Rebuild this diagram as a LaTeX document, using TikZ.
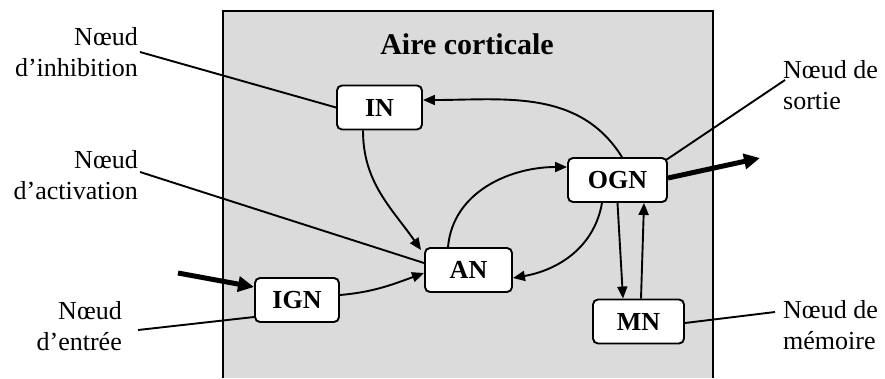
\documentclass[tikz,border=0pt]{standalone}
\usepackage{fontspec}
\setmainfont{Liberation Serif}
\usetikzlibrary{arrows.meta}
\begin{document}
\begin{tikzpicture}[x=1pt,y=1pt,
  cell/.style={draw=black, fill=white, line width=1.9pt, rounded corners=5pt,
    minimum width=85pt, minimum height=44pt, inner sep=0pt,
    font=\fontsize{26}{30}\selectfont\bfseries},
  lbl/.style={inner sep=0pt, font=\fontsize{26}{31}\selectfont},
  leader/.style={line width=1.9pt},
  arr/.style={line width=1.9pt, -{Triangle[length=12pt,width=10pt]}},
  bigarr/.style={line width=5pt, -{Triangle[length=16pt,width=15pt]}}]
\useasboundingbox (0,0) rectangle (885,-378);
% cortical area
\fill[gray!28] (223,-11) rectangle (713,-378);
\draw[line width=1.8pt] (223,-378) -- (223,-11) -- (713,-11) -- (713,-378);
\node[font=\fontsize{30}{34}\selectfont\bfseries] (title) at (467,-44) {Aire corticale};
% nodes
\node[cell] (IN)  at (379.5,-107.5) {IN};
\node[cell, minimum width=99pt] (OGN) at (617.5,-180) {OGN};
\node[cell, minimum width=87pt] (AN)  at (468.5,-270) {AN};
\node[cell, minimum width=84pt] (IGN) at (297,-300) {IGN};
\node[cell, minimum width=91pt] (MN)  at (638.5,-321.5) {MN};
% labels
\node[lbl, anchor=east, align=right] (linh) at (138,-52) {Nœud\\d’inhibition};
\node[lbl, anchor=east, align=right] (lact) at (138,-175) {Nœud\\d’activation};
\node[lbl, anchor=east, align=right] (lent) at (122,-326) {Nœud\\d’entrée};
\node[lbl, anchor=west, align=left] (lsor) at (783,-85) {Nœud de\\sortie};
\node[lbl, anchor=west, align=left] (lmem) at (783,-325) {Nœud de\\mémoire};
% leader line ends
\coordinate (cinh) at (140,-52);
\coordinate (cact) at (140,-172);
\coordinate (cent) at (138,-330);
\coordinate (csor) at (785,-80);
\coordinate (cmem) at (775,-312);
\draw[leader] (cinh) -- (IN.west);
\draw[leader] (cact) -- ([yshift=7pt]AN.west);
\draw[leader] (cent) -- ([yshift=-17pt]IGN.west);
\draw[leader] (csor) -- ([shift={(-2pt,-3pt)}]OGN.north east);
\draw[leader] (cmem) -- ([yshift=-1.5pt]MN.east);
% input and output
\coordinate (cin) at (178,-273);
\coordinate (cout) at (760,-158);
\draw[bigarr] (cin) -- ([yshift=13pt]IGN.west);
\draw[bigarr] ([yshift=2pt]OGN.east) -- (cout);
% internal connections
\draw[arr] ([xshift=4.5pt]OGN.north) to[out=122, in=0] ([yshift=7.5pt]IN.east);
\draw[arr] ([xshift=-16.5pt]IN.south) to[out=-90, in=125] ([shift={(-3pt,-3pt)}]AN.north west);
\draw[arr] ([xshift=-20.5pt]AN.north) to[out=85, in=180] ([yshift=13pt]OGN.west);
\draw[arr] ([xshift=-15.5pt]OGN.south) to[out=-100, in=10] ([yshift=-8pt]AN.east);
\draw[arr] (OGN.south) -- ([xshift=-15.5pt]MN.north);
\draw[arr] ([xshift=2.5pt]MN.north) -- ([xshift=26.5pt]OGN.south);
\draw[arr] ([yshift=5pt]IGN.east) to[out=5, in=200] ([yshift=-3pt]AN.west);
\end{tikzpicture}
\end{document}
